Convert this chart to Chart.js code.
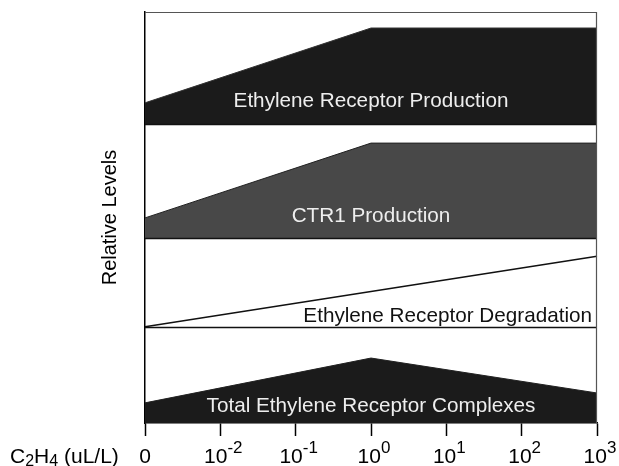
<!DOCTYPE html>
<html>
<head>
<meta charset="utf-8">
<script src="https://cdn.jsdelivr.net/npm/chart.js@4.4.1/dist/chart.umd.min.js"></script>
<style>
    html, body { margin: 0; padding: 0; background: #fff; }
    #wrap { width: 619px; height: 466px; }
</style>
</head>
<body>
<div id="wrap"><canvas id="myChart"></canvas></div>
<script>
// C2H4 doses (base 10, exponent), '0' is the control
const doses = ['0', '10^-2', '10^-1', '10^0', '10^1', '10^2', '10^3'];

// baseline of each panel on the relative level axis (top panel first)
const panelBase = [72.7, 45, 23.4, 0];
const panelNames = [
    'Ethylene Receptor Production',
    'CTR1 Production',
    'Ethylene Receptor Degradation',
    'Total Ethylene Receptor Complexes'
];

// values only where the line bends, straight segments span the gaps
const receptorProduction = [77.9, null, null, 96.1, null, null, 96.1];
const ctr1Production = [49.9, null, null, 68.1, null, null, 68.1];
const receptorDegradation = [23.4, null, null, null, null, null, 40.6];
const totalComplexes = [4.9, null, null, 15.8, null, null, 7.3];

Chart.defaults.font.family = "'Liberation Sans', Arial, sans-serif";
Chart.defaults.color = '#000';

// draws mixed size text (sub/superscripts) from a list of runs
const drawRuns = function (ctx, runs, x, y, align) {
    let total = 0;
    for (const r of runs) {
        ctx.font = r.size + "px 'Liberation Sans', Arial, sans-serif";
        r.w = ctx.measureText(r.t).width;
        total += r.w;
    }
    let cx = align === 'center' ? x - total / 2 : x;
    ctx.textAlign = 'left';
    ctx.textBaseline = 'alphabetic';
    for (const r of runs) {
        ctx.font = r.size + "px 'Liberation Sans', Arial, sans-serif";
        ctx.fillText(r.t, cx, y + r.dy);
        cx += r.w;
    }
};

const panelPlugin = {
    id: 'panels',
    afterDraw(chart) {
        const ctx = chart.ctx;
        const area = chart.chartArea;
        const x = chart.scales.x;
        const y = chart.scales.y;
        ctx.save();

        // panel separators
        ctx.strokeStyle = '#111';
        ctx.lineWidth = 1.5;
        for (const b of panelBase) {
            if (b === 0) continue;
            const py = Math.round(y.getPixelForValue(b)) + 0.5;
            ctx.beginPath();
            ctx.moveTo(area.left, py);
            ctx.lineTo(area.right, py);
            ctx.stroke();
        }

        // top and right frame
        ctx.strokeStyle = '#555';
        ctx.lineWidth = 1.2;
        ctx.beginPath();
        ctx.moveTo(area.left, area.top + 0.5);
        ctx.lineTo(area.right - 0.5, area.top + 0.5);
        ctx.lineTo(area.right - 0.5, area.bottom);
        ctx.stroke();

        // panel labels
        const mid = x.getPixelForValue(3);
        ctx.textBaseline = 'alphabetic';
        ctx.font = "20.7px 'Liberation Sans', Arial, sans-serif";
        ctx.fillStyle = '#eee';
        ctx.textAlign = 'center';
        ctx.fillText(panelNames[0], mid, y.getPixelForValue(76.9));
        ctx.fillText(panelNames[1], mid, y.getPixelForValue(48.9));
        ctx.fillText(panelNames[3], mid, y.getPixelForValue(2.7));
        ctx.fillStyle = '#111';
        ctx.textAlign = 'right';
        ctx.fillText(panelNames[2], area.right - 5, y.getPixelForValue(24.6));

        // dose tick labels
        ctx.fillStyle = '#000';
        doses.forEach(function (d, i) {
            const px = x.getPixelForValue(i);
            const parts = d.split('^');
            const runs = [{t: parts[0], size: 21, dy: 0}];
            if (parts.length > 1) runs.push({t: parts[1], size: 17, dy: -10});
            drawRuns(ctx, runs, px + (parts.length > 1 ? 3 : 0), 463, 'center');
        });

        // x axis title C2H4 (uL/L)
        drawRuns(ctx, [
            {t: 'C', size: 21, dy: 0},
            {t: '2', size: 16, dy: 3},
            {t: 'H', size: 21, dy: 0},
            {t: '4', size: 16, dy: 3},
            {t: ' (uL/L)', size: 21, dy: 0}
        ], 10, 463, 'left');

        ctx.restore();
    }
};

const makeSet = function (label, data, base, fillColor, lineColor, width) {
    return {
        label: label,
        data: data,
        fill: {value: base},
        backgroundColor: fillColor,
        borderColor: lineColor,
        borderWidth: width,
        pointRadius: 0,
        tension: 0,
        spanGaps: true
    };
};

document.addEventListener('DOMContentLoaded', function () {
    let ctx = document.getElementById('myChart').getContext('2d');

    let chart = new Chart(ctx, {
        type: 'line',
        data: {
            labels: doses,
            datasets: [
                makeSet(panelNames[0], receptorProduction, panelBase[0], '#1b1b1b', '#333', 1),
                makeSet(panelNames[1], ctr1Production, panelBase[1], '#484848', '#222', 1),
                makeSet(panelNames[2], receptorDegradation, panelBase[2], '#fff', '#111', 1.5),
                makeSet(panelNames[3], totalComplexes, panelBase[3], '#1b1b1b', '#222', 1)
            ]
        },
        options: {
            responsive: true,
            maintainAspectRatio: false,
            animation: false,
            devicePixelRatio: 1,
            layout: {padding: {left: 98, top: 12, right: 22, bottom: 0}},
            plugins: {
                legend: {display: false},
                tooltip: {enabled: false}
            },
            scales: {
                x: {
                    type: 'category',
                    offset: false,
                    ticks: {display: false},
                    grid: {
                        drawOnChartArea: false,
                        drawTicks: true,
                        tickLength: 13,
                        tickColor: '#000',
                        tickWidth: 1.5
                    },
                    border: {display: true, color: '#000', width: 1.5},
                    afterFit: function (scale) { scale.height = 43; }
                },
                y: {
                    min: 0,
                    max: 100,
                    ticks: {display: false},
                    grid: {display: false},
                    border: {display: true, color: '#000', width: 1.5},
                    title: {
                        display: true,
                        text: 'Relative Levels',
                        color: '#000',
                        font: {size: 20},
                        padding: 0
                    },
                    afterFit: function (scale) { scale.width = 47; }
                }
            }
        },
        plugins: [panelPlugin]
    });
});
</script>
</body>
</html>
